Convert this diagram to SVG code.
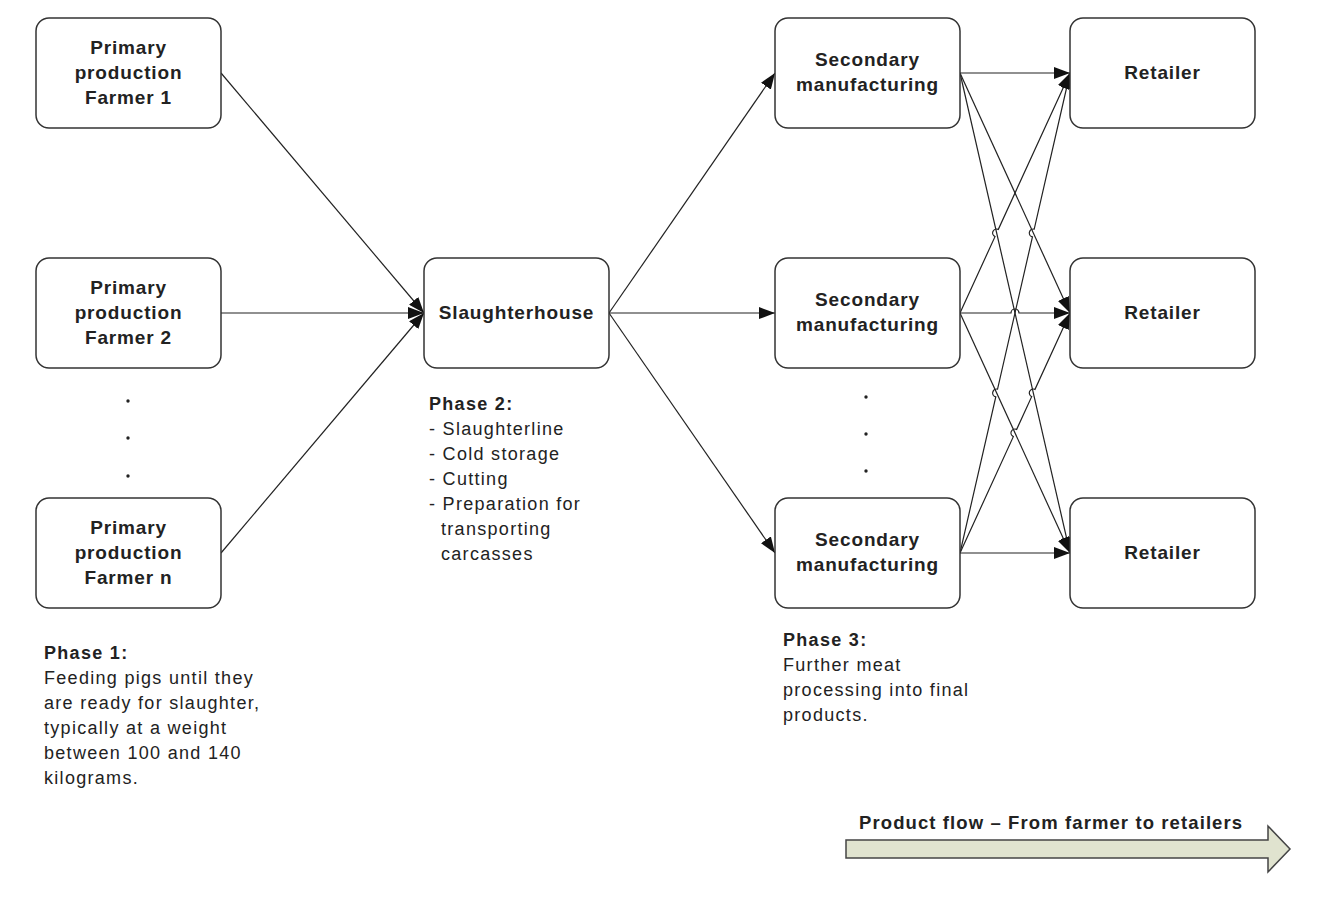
<svg xmlns="http://www.w3.org/2000/svg" width="1320" height="900" viewBox="0 0 1320 900">
<style>
.box{fill:#fff;stroke:#333;stroke-width:1.5}
.lbl{font-family:"Liberation Sans",Arial,sans-serif;font-weight:bold;font-size:19px;letter-spacing:0.85px;fill:#222;text-anchor:middle}
.txt{font-family:"Liberation Sans",Arial,sans-serif;font-size:18px;letter-spacing:1.3px;fill:#222}
.b{font-weight:bold}
.con{stroke:#222;stroke-width:1.2;fill:none;marker-end:url(#ah)}
.dot{fill:#222}
</style>
<defs>
<marker id="ah" viewBox="0 0 16 12" refX="16" refY="6" markerWidth="16" markerHeight="12" markerUnits="userSpaceOnUse" orient="auto">
<path d="M0,0 L16,6 L0,12 z" fill="#111"/>
</marker>
</defs>
<rect width="1320" height="900" fill="#fff"/>
<g id="connectors">
<line class="con" x1="221" y1="73" x2="424" y2="313"/>
<line class="con" x1="221" y1="313" x2="424" y2="313"/>
<line class="con" x1="221" y1="553" x2="424" y2="313"/>
<line class="con" x1="609" y1="313" x2="775" y2="73"/>
<line class="con" x1="609" y1="313" x2="775" y2="313"/>
<line class="con" x1="609" y1="313" x2="775" y2="553"/>
<line class="con" x1="960" y1="73" x2="1070" y2="73"/>
<line class="con" x1="960" y1="73" x2="1070" y2="313"/>
<line class="con" x1="960" y1="73" x2="1070" y2="553"/>
<path class="con" d="M960,313 L995,236.64 A4,4 0 0 1 998.33,229.36 L1070,73"/>
<path class="con" d="M960,313 L1011,313 A4,4 0 0 1 1019,313 L1070,313"/>
<line class="con" x1="960" y1="313" x2="1070" y2="553"/>
<path class="con" d="M960,553 L995.78,396.9 A4,4 0 0 1 997.56,389.1 L1032.44,236.9 A4,4 0 0 1 1034.22,229.1 L1070,73"/>
<path class="con" d="M960,553 L1013.33,436.64 A4,4 0 0 1 1016.67,429.36 L1031.67,396.64 A4,4 0 0 1 1035,389.36 L1070,313"/>
<line class="con" x1="960" y1="553" x2="1070" y2="553"/>
</g>
<g id="farmer1"><rect class="box" x="36" y="18" width="185" height="110" rx="13"/>
<text class="lbl" x="128.5" y="54">Primary</text><text class="lbl" x="128.5" y="79">production</text><text class="lbl" x="128.5" y="104">Farmer 1</text></g>
<g id="farmer2"><rect class="box" x="36" y="258" width="185" height="110" rx="13"/>
<text class="lbl" x="128.5" y="294">Primary</text><text class="lbl" x="128.5" y="319">production</text><text class="lbl" x="128.5" y="344">Farmer 2</text></g>
<g id="farmern"><rect class="box" x="36" y="498" width="185" height="110" rx="13"/>
<text class="lbl" x="128.5" y="534">Primary</text><text class="lbl" x="128.5" y="559">production</text><text class="lbl" x="128.5" y="584">Farmer n</text></g>
<g id="dots1"><circle class="dot" cx="128" cy="401" r="1.7"/><circle class="dot" cx="128" cy="438" r="1.7"/><circle class="dot" cx="128" cy="476" r="1.7"/></g>
<g id="slaughterhouse"><rect class="box" x="424" y="258" width="185" height="110" rx="13"/>
<text class="lbl" x="516.5" y="319">Slaughterhouse</text></g>
<g id="secondary1"><rect class="box" x="775" y="18" width="185" height="110" rx="13"/>
<text class="lbl" x="867.5" y="66">Secondary</text><text class="lbl" x="867.5" y="91">manufacturing</text></g>
<g id="secondary2"><rect class="box" x="775" y="258" width="185" height="110" rx="13"/>
<text class="lbl" x="867.5" y="306">Secondary</text><text class="lbl" x="867.5" y="331">manufacturing</text></g>
<g id="secondary3"><rect class="box" x="775" y="498" width="185" height="110" rx="13"/>
<text class="lbl" x="867.5" y="546">Secondary</text><text class="lbl" x="867.5" y="571">manufacturing</text></g>
<g id="dots2"><circle class="dot" cx="866" cy="397" r="1.7"/><circle class="dot" cx="866" cy="434" r="1.7"/><circle class="dot" cx="866" cy="471" r="1.7"/></g>
<g id="retailer1"><rect class="box" x="1070" y="18" width="185" height="110" rx="13"/>
<text class="lbl" x="1162.5" y="79">Retailer</text></g>
<g id="retailer2"><rect class="box" x="1070" y="258" width="185" height="110" rx="13"/>
<text class="lbl" x="1162.5" y="319">Retailer</text></g>
<g id="retailer3"><rect class="box" x="1070" y="498" width="185" height="110" rx="13"/>
<text class="lbl" x="1162.5" y="559">Retailer</text></g>
<g id="phase1">
<text class="txt b" x="44" y="659">Phase 1:</text>
<text class="txt" x="44" y="684">Feeding pigs until they</text>
<text class="txt" x="44" y="709">are ready for slaughter,</text>
<text class="txt" x="44" y="734">typically at a weight</text>
<text class="txt" x="44" y="759">between 100 and 140</text>
<text class="txt" x="44" y="784">kilograms.</text>
</g>
<g id="phase2">
<text class="txt b" x="429" y="410">Phase 2:</text>
<text class="txt" x="429" y="435">- Slaughterline</text>
<text class="txt" x="429" y="460">- Cold storage</text>
<text class="txt" x="429" y="485">- Cutting</text>
<text class="txt" x="429" y="510">- Preparation for</text>
<text class="txt" x="441" y="535">transporting</text>
<text class="txt" x="441" y="560">carcasses</text>
</g>
<g id="phase3">
<text class="txt b" x="783" y="646">Phase 3:</text>
<text class="txt" x="783" y="671">Further meat</text>
<text class="txt" x="783" y="696">processing into final</text>
<text class="txt" x="783" y="721">products.</text>
</g>
<g id="flow">
<text x="859" y="829" style="font-family:'Liberation Sans',Arial,sans-serif;font-weight:bold;font-size:18.5px;letter-spacing:1.1px;fill:#222">Product flow – From farmer to retailers</text>
<path d="M846,840 L1268,840 L1268,826 L1290,849 L1268,872 L1268,858 L846,858 Z" fill="#e0e3cf" stroke="#444" stroke-width="1.5"/>
</g>
</svg>
